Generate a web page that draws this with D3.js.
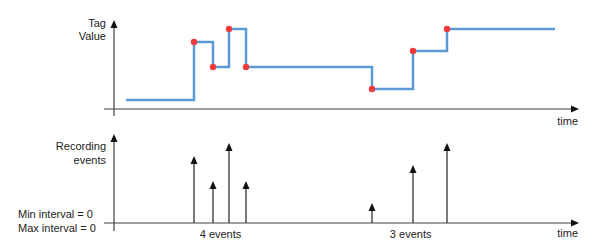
<!DOCTYPE html>
<html><head><meta charset="utf-8">
<script src="https://cdn.jsdelivr.net/npm/d3@7"></script>
<style>
html,body{margin:0;padding:0;background:#fff;}
svg{display:block;}
text{font-family:"Liberation Sans",Arial,sans-serif;font-size:11px;fill:#222;}
</style></head>
<body><svg id="c" width="600" height="248"></svg>
<script>
// ---- data ----
const startTime = 12;
const endTime = 441;
const startValue = 9;
const eventTimes = [80, 99, 115, 132, 258, 299, 333];
const eventValues = [67, 42, 80, 42, 20, 58, 80];
const groups = [{label: "4 events", idx: [0,1,2,3]}, {label: "3 events", idx: [4,5,6]}];
const topYLabel = ["Tag", "Value"];
const botYLabel = ["Recording", "events"];
const intervalLabels = ["Min interval = 0", "Max interval = 0"];
const xLabel = "time";

// ---- scales ----
const svg = d3.select("#c");
const x = d3.scaleLinear().domain([0, 463]).range([114, 577]);
const yTop = d3.scaleLinear().domain([0, 89]).range([109, 20]);
const yBot = d3.scaleLinear().domain([0, 89]).range([223, 134]);

const axisCol = "#404040";
function arrowHead(g, tx, ty, dir, col) {
  const s = 3.5, l = 8;
  let pts;
  if (dir === "up") pts = [[tx, ty], [tx - s, ty + l], [tx + s, ty + l]];
  else pts = [[tx, ty], [tx - l, ty - s], [tx - l, ty + s]];
  g.append("path").attr("d", d3.line()(pts) + "Z").attr("fill", col);
}

function axes(yScale, bottomExtra) {
  const g = svg.append("g");
  const y0 = yScale(0);
  // x axis
  g.append("line").attr("x1", x(-10)).attr("x2", x(457)).attr("y1", y0).attr("y2", y0)
    .attr("stroke", axisCol).attr("stroke-width", 1.2);
  arrowHead(g, x(465), y0, "right", "#111");
  // y axis
  g.append("line").attr("x1", x(0)).attr("x2", x(0)).attr("y1", y0 + bottomExtra).attr("y2", yScale(89) + 5)
    .attr("stroke", axisCol).attr("stroke-width", 1.2);
  arrowHead(g, x(0), yScale(89), "up", "#111");
  return g;
}

// ---- top chart ----
axes(yTop, 7);
const stepPts = [{t: startTime, v: startValue}]
  .concat(eventTimes.map((t, i) => ({t, v: eventValues[i]})))
  .concat([{t: endTime, v: eventValues[eventValues.length - 1]}]);
svg.append("path")
  .attr("d", d3.line().curve(d3.curveStepAfter).x(d => x(d.t)).y(d => yTop(d.v))(stepPts))
  .attr("fill", "none").attr("stroke", "#5B9BD5").attr("stroke-width", 2.5);
svg.selectAll("circle.ev").data(eventTimes).join("circle")
  .attr("class", "ev").attr("cx", d => x(d)).attr("cy", (d, i) => yTop(eventValues[i]))
  .attr("r", 3.2).attr("fill", "#F23B3B");

svg.append("text").attr("x", 106).attr("y", 27).attr("text-anchor", "end").text(topYLabel[0]);
svg.append("text").attr("x", 106).attr("y", 40).attr("text-anchor", "end").text(topYLabel[1]);
svg.append("text").attr("x", 578).attr("y", 125).attr("text-anchor", "end").text(xLabel);

// ---- bottom chart ----
axes(yBot, 8);
const ev = svg.append("g");
eventTimes.forEach((t, i) => {
  ev.append("line").attr("x1", x(t)).attr("x2", x(t)).attr("y1", yBot(0)).attr("y2", yBot(eventValues[i]) + 4)
    .attr("stroke", "#333").attr("stroke-width", 1.3);
  arrowHead(ev, x(t), yBot(eventValues[i]), "up", "#111");
});
svg.append("text").attr("x", 106).attr("y", 150).attr("text-anchor", "end").text(botYLabel[0]);
svg.append("text").attr("x", 106).attr("y", 164).attr("text-anchor", "end").text(botYLabel[1]);
svg.append("text").attr("x", 18).attr("y", 218).text(intervalLabels[0]);
svg.append("text").attr("x", 18).attr("y", 232).text(intervalLabels[1]);
svg.append("text").attr("x", 578).attr("y", 237).attr("text-anchor", "end").text(xLabel);
groups.forEach(g => {
  const m = d3.mean(g.idx, i => eventTimes[i]);
  svg.append("text").attr("x", x(m)).attr("y", 238).attr("text-anchor", "middle").text(g.label);
});
</script></body></html>
